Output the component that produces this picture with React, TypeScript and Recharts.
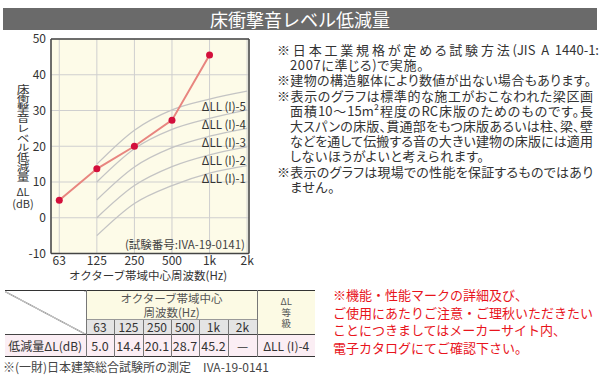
import React from 'react';
import { LineChart, Line, XAxis, YAxis, CartesianGrid, ReferenceLine } from 'recharts';

const categories = ['63', '125', '250', '500', '1k', '2k'];
const yTicks = [-10, 0, 10, 20, 30, 40, 50];
const measured: (number | null)[] = [4.9, 13.7, 20.0, 27.3, 45.5, null];
const ll1: (number | null)[] = [null, -5, 4, 9, 12.5, 14.6];
const ll2: (number | null)[] = [null, 0, 9, 14.3, 17.6, 19.8];
const ll3: (number | null)[] = [null, 5, 14.2, 19.6, 22.8, 25];
const ll4: (number | null)[] = [null, 10, 19.3, 24.7, 27.8, 30.2];
const ll5: (number | null)[] = [null, 15, 24.5, 30.2, 33.2, 35.4];
const curveLabels = ['ΔLL (I)-5', 'ΔLL (I)-4', 'ΔLL (I)-3', 'ΔLL (I)-2', 'ΔLL (I)-1'];
const tableValues = ['5.0', '14.4', '20.1', '28.7', '45.2', '—'];
const gradeText = 'ΔLL (I)-4';

const title = '床衝撃音レベル低減量';
const yLabelMain = '床衝撃音レベル低減量';
const xLabel = 'オクターブ帯域中心周波数(Hz)';
const testNo = '(試験番号:IVA-19-0141)';
const notes = [
  '※日本工業規格が定める試験方法(JIS A 1440-1:',
  '2007に準じる)で実施。',
  '※建物の構造躯体により数値が出ない場合もあります。',
  '※表示のグラフは標準的な施工がおこなわれた梁区画',
  '面積10〜15m²程度のRC床版のためのものです。長',
  '大スパンの床版、貫通部をもつ床版あるいは柱、梁、壁',
  'などを通して伝搬する音の大きい建物の床版には適用',
  'しないほうがよいと考えられます。',
  '※表示のグラフは現場での性能を保証するものではあり',
  'ません。',
];
// line layout: [left, right end or null (natural width)]
const noteLayout: [number, number | null][] = [
  [277, 599], [290, null], [277, 591], [277, 593], [290, 593],
  [290, 593], [290, 593], [290, null], [277, 593], [290, null],
];
const redNotes = [
  '※機能・性能マークの詳細及び、',
  'ご使用にあたりご注意・ご理秋いただきたい',
  'ことにつきましてはメーカーサイト内、',
  '電子カタログにてご確認下さい。',
];
const footnote = '※(一財)日本建築総合試験所の測定　IVA-19-0141';

const data = categories.map((c, i) => ({
  x: i,
  measured: measured[i],
  ll1: ll1[i],
  ll2: ll2[i],
  ll3: ll3[i],
  ll4: ll4[i],
  ll5: ll5[i],
}));

const FONT = "'Noto Sans CJK JP', sans-serif";
const X_DOMAIN: [number, number] = [-0.22, 5.05];

const abs = (s: React.CSSProperties): React.CSSProperties => ({ position: 'absolute', whiteSpace: 'nowrap', ...s });

export default function App() {
  const refColor = '#c4c4c4';
  const yellow = '#fcfae4';
  const pink = '#fbeef4';
  const gray = '#e4e4e4';
  const cellBase: React.CSSProperties = {
    padding: 0,
    textAlign: 'center',
    verticalAlign: 'middle',
    borderLeft: '1px solid #777',
    color: '#333',
  };
  return (
    <div style={{ position: 'absolute', left: 0, top: 0, width: 600, height: 375, background: '#fff', fontFamily: FONT, overflow: 'hidden' }}>
      <div style={abs({ left: 3, top: 8, width: 594, height: 22, background: '#6a6a6a', color: '#fff', fontSize: 18, lineHeight: '22px', textAlign: 'center' })}>
        {title}
      </div>

      <div style={abs({ left: 0, top: 0 })}>
        <LineChart width={260} height={290} data={data} margin={{ top: 39, right: 11, bottom: 16.5, left: 11 }}>
          <CartesianGrid stroke="#cfcfcf" fill="#fdfbe8" />
          <XAxis
            dataKey="x"
            type="number"
            domain={X_DOMAIN}
            ticks={[0, 1, 2, 3, 4, 5]}
            tickFormatter={(v: number) => categories[v] ?? ''}
            allowDataOverflow
            height={20}
            tickLine={false}
            tickSize={0}
            tickMargin={3}
            axisLine={{ stroke: '#444', strokeWidth: 1.5 }}
            tick={{ fontSize: 12, fill: '#333', fontFamily: FONT }}
            interval={0}
          />
          <YAxis
            type="number"
            domain={[-10, 50]}
            ticks={yTicks}
            width={40}
            tickLine={false}
            tickSize={0}
            tickMargin={5}
            axisLine={{ stroke: '#444', strokeWidth: 1.5 }}
            tick={{ fontSize: 12, fill: '#333', fontFamily: FONT }}
            interval={0}
          />
          <ReferenceLine y={50} stroke="#444" strokeWidth={1.5} />
          <ReferenceLine x={X_DOMAIN[1]} stroke="#444" strokeWidth={1.5} />
          <Line dataKey="ll1" type="monotone" stroke={refColor} strokeWidth={1.3} dot={false} isAnimationActive={false} />
          <Line dataKey="ll2" type="monotone" stroke={refColor} strokeWidth={1.3} dot={false} isAnimationActive={false} />
          <Line dataKey="ll3" type="monotone" stroke={refColor} strokeWidth={1.3} dot={false} isAnimationActive={false} />
          <Line dataKey="ll4" type="monotone" stroke={refColor} strokeWidth={1.3} dot={false} isAnimationActive={false} />
          <Line dataKey="ll5" type="monotone" stroke={refColor} strokeWidth={1.3} dot={false} isAnimationActive={false} />
          <Line
            dataKey="measured"
            type="linear"
            stroke="#e8857f"
            strokeWidth={2}
            dot={{ r: 3.5, fill: '#d30f3b', stroke: 'none' }}
            isAnimationActive={false}
          />
        </LineChart>
      </div>

      {curveLabels.map((t, i) => (
        <div key={t} style={abs({ right: 600 - 246, top: 99 + i * 18, fontSize: 11.5, lineHeight: '14px', color: '#333' })}>{t}</div>
      ))}
      <div style={abs({ right: 600 - 245, top: 237, fontSize: 11.5, lineHeight: '14px', color: '#444' })}>{testNo}</div>

      <div
        style={abs({
          left: 17,
          top: 84,
          fontSize: 9.8,
          lineHeight: '12px',
          color: '#333',
          writingMode: 'vertical-rl',
          textOrientation: 'upright',
          transform: 'scaleX(1.3)',
          transformOrigin: 'center',
        } as React.CSSProperties)}
      >
        {yLabelMain}
      </div>
      <div style={abs({ left: 8, top: 185, width: 30, textAlign: 'center', fontSize: 11, lineHeight: '12px', color: '#333' })}>
        <div>ΔL</div>
        <div>(dB)</div>
      </div>

      <div style={abs({ left: 58, width: 180, top: 268, textAlign: 'center', fontSize: 11.5, lineHeight: '14px', color: '#333' })}>{xLabel}</div>

      {notes.map((t, i) => {
        const [l, r] = noteLayout[i];
        const justify = r !== null;
        return (
          <div
            key={i}
            style={abs({
              left: l,
              top: 42 + i * 15.2,
              width: justify ? (r as number) - l : undefined,
              fontSize: 13,
              lineHeight: '15px',
              color: '#333',
              fontFeatureSettings: '"palt"',
              letterSpacing: justify ? 0 : 0.6,
              textAlign: justify ? 'justify' : 'left',
              textAlignLast: justify ? 'justify' : 'auto',
              textJustify: 'inter-character',
              overflow: 'visible',
            } as React.CSSProperties)}
          >
            {t}
          </div>
        );
      })}

      <table style={{ position: 'absolute', left: 5, top: 290, width: 310, borderCollapse: 'collapse', tableLayout: 'fixed', fontFamily: FONT, borderTop: '1.5px solid #333', borderBottom: '1.5px solid #333' }}>
        <colgroup>
          <col style={{ width: 81 }} />
          <col style={{ width: 28 }} />
          <col style={{ width: 29 }} />
          <col style={{ width: 28 }} />
          <col style={{ width: 28 }} />
          <col style={{ width: 29 }} />
          <col style={{ width: 29 }} />
          <col style={{ width: 58 }} />
        </colgroup>
        <tbody>
          <tr style={{ height: 29 }}>
            <td rowSpan={2} style={{ padding: 0, background: 'linear-gradient(to top right, #fff calc(50% - 0.7px), #555 50%, #fff calc(50% + 0.7px))' }} />
            <td colSpan={6} style={{ ...cellBase, background: yellow, fontSize: 11.5, lineHeight: '14px', color: '#555' }}>
              オクターブ帯域中心<br />周波数(Hz)
            </td>
            <td rowSpan={2} style={{ ...cellBase, background: yellow, fontSize: 9.5, lineHeight: '11px', color: '#555' }}>
              ΔL<br />等<br />級
            </td>
          </tr>
          <tr style={{ height: 15 }}>
            {categories.map((c) => (
              <td key={c} style={{ ...cellBase, borderTop: '1px solid #999', background: gray, fontSize: 12, lineHeight: '14px' }}>{c}</td>
            ))}
          </tr>
          <tr style={{ height: 22 }}>
            <td style={{ padding: 0, textAlign: 'center', background: pink, borderTop: '1px solid #444', fontSize: 12, color: '#333' }}>低減量ΔL(dB)</td>
            {tableValues.map((v, i) => (
              <td key={i} style={{ ...cellBase, borderTop: '1px solid #444', background: pink, fontSize: 12.5 }}>{v}</td>
            ))}
            <td style={{ ...cellBase, borderTop: '1px solid #444', background: pink, fontSize: 12 }}>{gradeText}</td>
          </tr>
        </tbody>
      </table>

      <div style={abs({ left: 3, top: 360, fontSize: 12, lineHeight: '14px', color: '#444' })}>{footnote}</div>

      {redNotes.map((t, i) => (
        <div key={i} style={abs({ left: 333, top: 287 + i * 17.7, fontSize: 13, lineHeight: '16px', color: '#e8141c' })}>{t}</div>
      ))}
    </div>
  );
}
